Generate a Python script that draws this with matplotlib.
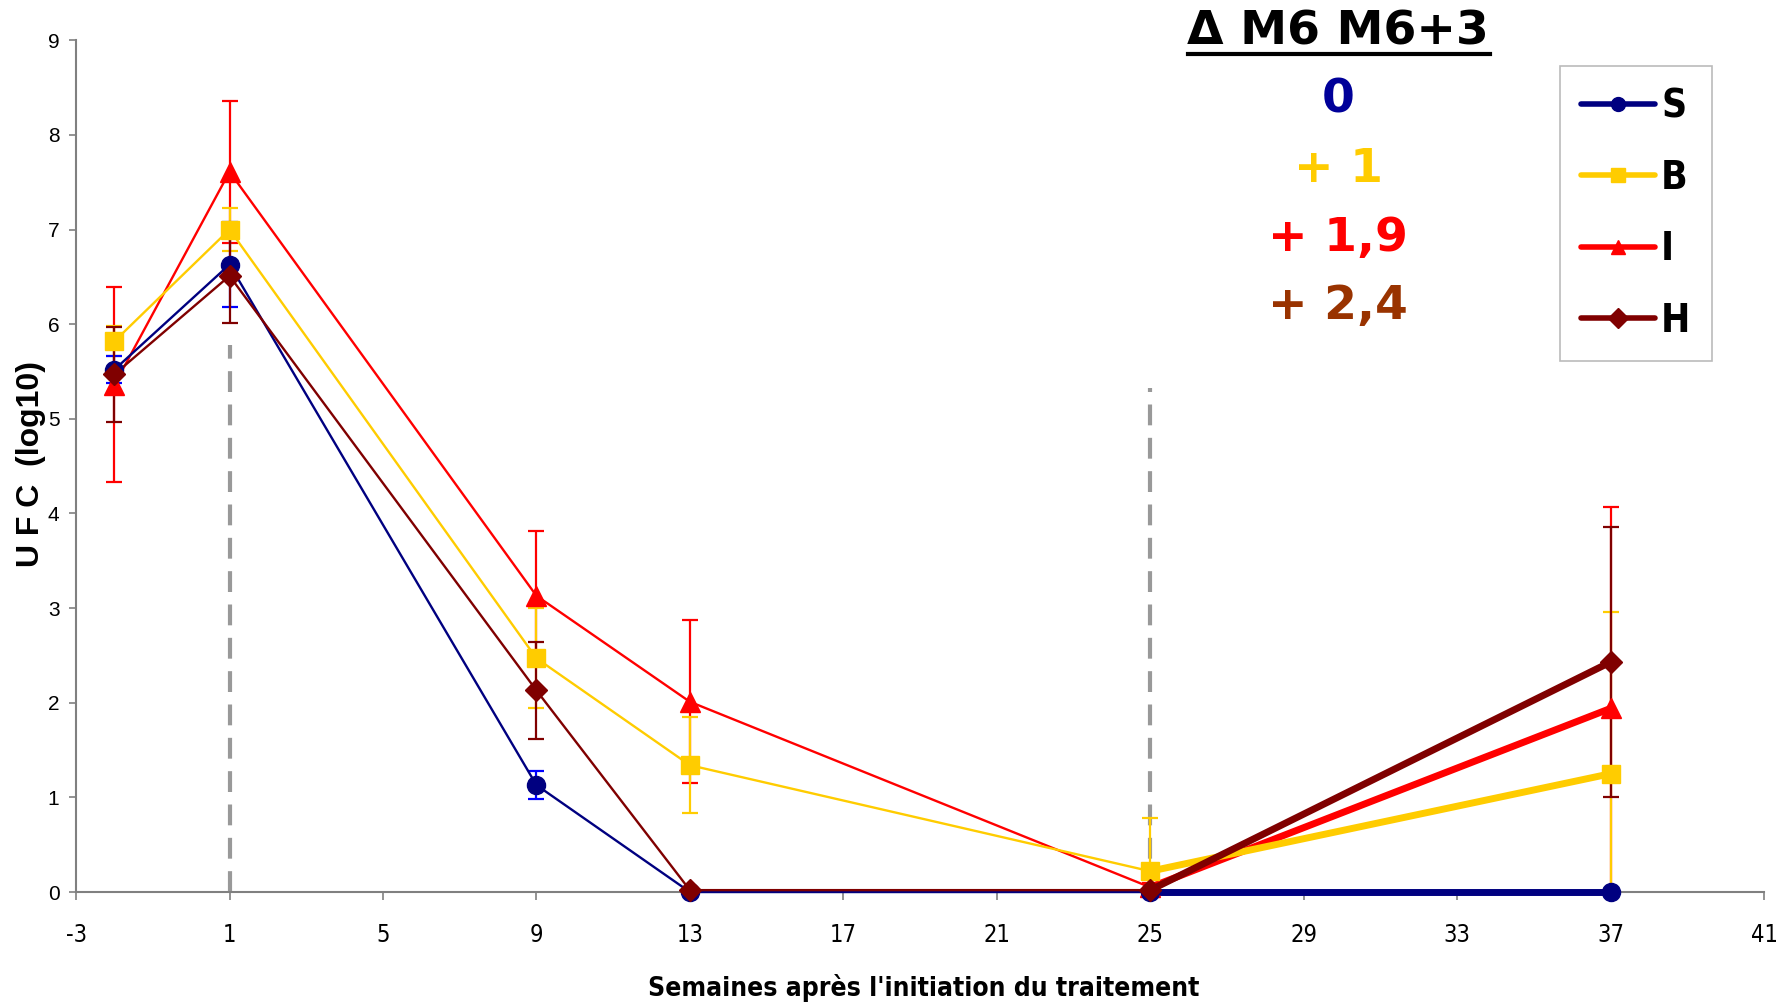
import matplotlib.pyplot as plt
from matplotlib import font_manager
from matplotlib.lines import Line2D

# data
weeks = [-2, 1, 9, 13, 25, 37]
groups = ['S', 'B', 'I', 'H']
means = {
    'S': [5.52, 6.63, 1.13, 0.0, 0.0, 0.0],
    'B': [5.82, 7.00, 2.47, 1.34, 0.22, 1.25],
    'I': [5.36, 7.61, 3.13, 2.01, 0.05, 1.94],
    'H': [5.47, 6.51, 2.13, 0.02, 0.02, 2.43],
}
errs = {
    'S': [0.14, 0.45, 0.15, 0.0, 0.0, 0.0],
    'B': [0.16, 0.23, 0.53, 0.51, 0.56, 1.71],
    'I': [1.03, 0.75, 0.68, 0.86, 0.05, 2.13],
    'H': [0.50, 0.50, 0.51, 0.0, 0.0, 1.43],
}
deltas = ['0', '+ 1', '+ 1,9', '+ 2,4']
ref_weeks = [1, 25]
ref_tops = [5.78, 5.33]
xticks = list(range(-3, 42, 4))
yticks = list(range(0, 10))

colors = {'S': '#000080', 'B': '#FFCC00', 'I': '#FF0000', 'H': '#800000'}
ecolors = {'S': '#0000FF', 'B': '#FFCC00', 'I': '#FF0000', 'H': '#800000'}
markers = {'S': 'o', 'B': 's', 'I': '^', 'H': 'D'}
msizes = {'S': 13, 'B': 13, 'I': 14, 'H': 11}
delta_colors = ['#000099', '#FFCC00', '#FF0000', '#993300']

# look for an upright condensed sans font with regular and bold faces
fonts = font_manager.fontManager.ttflist


def weight_num(f):
    w = f.weight
    if isinstance(w, int):
        return w
    return font_manager.weight_dict.get(w, 400)


faces = {}
for f in fonts:
    n = f.name.lower()
    narrowish = ('narrow' in n or 'condensed' in n
                 or f.stretch in ('condensed', 'semi-condensed', 'extra-condensed'))
    if not narrowish or f.style != 'normal':
        continue
    faces.setdefault(f.name, set()).add(weight_num(f))
good = sorted(n for n, ws in faces.items()
              if any(w == 400 for w in ws) and any(650 <= w <= 750 for w in ws))
pref = [n for n in good if 'narrow' in n.lower() or 'roboto' in n.lower()
        or 'liberation' in n.lower() or 'dejavu' in n.lower()]
if pref or good:
    narrow = {'family': [(pref or good)[0], 'DejaVu Sans'], 'stretch': 'condensed'}
    shrink = 1.0
else:
    narrow = {'family': ['Liberation Sans', 'DejaVu Sans']}
    shrink = 0.86

plt.rcParams['font.family'] = ['Liberation Sans', 'DejaVu Sans']
plt.rcParams['axes.unicode_minus'] = False

fig = plt.figure(figsize=(17.86, 10.06), dpi=100)
ax = fig.add_axes([0.0426, 0.1133, 0.9451, 0.8467])

# dashed reference lines
ax.vlines(ref_weeks, 0, ref_tops, colors='#999999', linestyles=(0, (5, 3)), lw=3, zorder=1)

split = weeks.index(25)
for g in ['I', 'B', 'S', 'H']:
    m = means[g]
    ax.errorbar(weeks, m, yerr=errs[g], fmt='none', ecolor=ecolors[g],
                elinewidth=1.6, capsize=6, capthick=1.6, zorder=2)
    ax.plot(weeks[:split + 1], m[:split + 1], color=colors[g], lw=1.7,
            zorder=3, clip_on=False)
    ax.plot(weeks[split:], m[split:], color=colors[g], lw=5, zorder=3,
            clip_on=False, solid_capstyle='round')
    ax.plot(weeks, m, ls='none', marker=markers[g], ms=msizes[g],
            color=colors[g], mec=colors[g], zorder=4, clip_on=False)

ax.set_xlim(-3, 41)
ax.set_ylim(0, 9)
ax.set_xticks(xticks)
ax.set_yticks(yticks)
for t in ax.get_xticklabels():
    t.set_fontproperties(font_manager.FontProperties(size=17 * shrink, weight='normal',
                                                     style='normal', **narrow))
for t in ax.get_yticklabels():
    t.set_fontsize(15)
ax.tick_params(axis='x', length=6, width=1.2, color='#808080', pad=16)
ax.tick_params(axis='y', length=5, width=1.2, color='#808080', pad=7)
for side in ['top', 'right']:
    ax.spines[side].set_visible(False)
for side in ['left', 'bottom']:
    ax.spines[side].set_color('#808080')
    ax.spines[side].set_linewidth(1.5)

ax.set_xlabel("Semaines après l'initiation du traitement",
              fontproperties=font_manager.FontProperties(size=19 * shrink, weight='bold',
                                                         style='normal', **narrow),
              va='center')
ax.xaxis.set_label_coords(0.502, -0.113)
ax.set_ylabel('U F C  (log10)', fontsize=23, fontweight='bold', va='center')
ax.yaxis.set_label_coords(-0.0265, 0.503)

# delta annotation
fig.text(1338 / 1786, 1 - 32 / 1006, 'Δ M6 M6+3', family='DejaVu Sans',
         fontsize=34, fontweight='bold', ha='center', va='center')
fig.add_artist(Line2D([1188 / 1786, 1490 / 1786], [1 - 54 / 1006, 1 - 54 / 1006],
                      color='black', lw=3, transform=fig.transFigure))
for k, (txt, c) in enumerate(zip(deltas, delta_colors)):
    fig.text(1338 / 1786, 1 - (100 + 69 * k) / 1006, txt, family='DejaVu Sans',
             fontsize=34, fontweight='bold', color=c, ha='center', va='center')

# legend
handles = [Line2D([], [], color=colors[g], lw=4, marker=markers[g], ms=10,
                  solid_capstyle='round') for g in groups]
leg = ax.legend(handles, groups, loc='upper left',
                bbox_to_anchor=(1560 / 1786, 1 - 66 / 1006),
                bbox_transform=fig.transFigure, fancybox=False,
                edgecolor='#BBBBBB', framealpha=1, handlelength=1.9,
                handletextpad=0.15, labelspacing=0.86, borderpad=0.55,
                borderaxespad=0,
                prop=font_manager.FontProperties(size=28 * shrink, weight='bold',
                                                 style='normal', **narrow))
leg.get_frame().set_linewidth(1.2)

fig.savefig('out.png', dpi=100)
